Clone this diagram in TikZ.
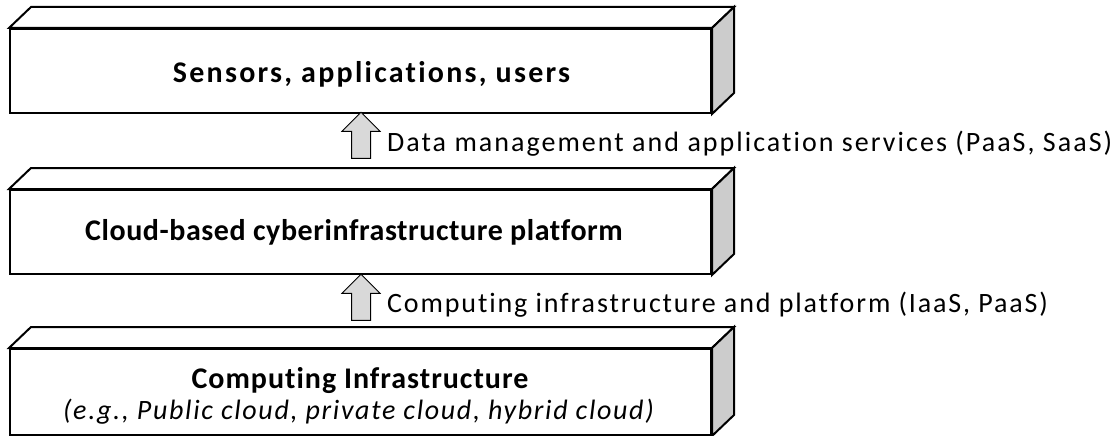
\documentclass[tikz,border=0pt]{standalone}
\usepackage{fontspec}
\setmainfont{Carlito}[Ligatures=NoCommon]
\usetikzlibrary{shapes.arrows}
\definecolor{sidegray}{HTML}{CCCCCC}
\definecolor{arrowgray}{HTML}{D9D9D9}
\newcommand{\spaced}[1]{\addfontfeatures{LetterSpace=#1}}
\tikzset{
  front/.style={draw, line width=2pt, fill=white, minimum width=701pt, inner sep=0pt, align=center},
  face/.style={draw, line width=2pt, line join=miter, fill=white},
  side/.style={face, fill=sidegray},
  uparrow/.style={single arrow, draw, line width=1pt, fill=arrowgray, rotate=90,
    minimum height=46pt, minimum width=37pt, single arrow head extend=9.5pt,
    single arrow head indent=0pt, inner xsep=0pt, inner ysep=9pt},
  title/.style={font=\fontsize{30}{36}\selectfont\bfseries\spaced{#1}, anchor=base, inner sep=0pt},
  sub/.style={font=\fontsize{28}{34}\selectfont\itshape\spaced{#1}, anchor=base, inner sep=0pt},
  lbl/.style={font=\fontsize{28}{34}\selectfont\spaced{#1}, anchor=base west, inner sep=0pt}
}
\newcommand{\boxdepth}[1]{%
  \draw[face] (#1.north west) -- ++(22,-21) -- ([shift={(22,-21)}]#1.north east) -- (#1.north east) -- cycle;
  \draw[side] (#1.north east) -- ++(22,-21) -- ([shift={(22,-21)}]#1.south east) -- (#1.south east) -- cycle;
}
\begin{document}
\begin{tikzpicture}[x=1pt,y=-1pt]
\useasboundingbox (0,0) rectangle (1120,436);

% layer boxes
\node[front, minimum height=84pt] (top) at (360.5,71) {};
\node[title=7.5] (topt) at (371.5,83) {Sensors, applications, users};
\boxdepth{top}

\node[front, minimum height=84pt] (mid) at (360.5,232) {};
\node[title=1.9] (midt) at (354,240) {Cloud-based cyberinfrastructure platform};
\boxdepth{mid}

\node[front, minimum height=86pt] (bot) at (360.5,392) {};
\node[title=3.3] (bott) at (360,388) {Computing Infrastructure};
\node[sub=6] (bots) at (358.5,419) {(e.g., Public cloud, private cloud, hybrid cloud)};
\boxdepth{bot}

% service arrows
\node[uparrow] (a1) at (361,140) {};
\node[lbl=7.3] (l1) at (387,151.5) {Data management and application services (PaaS, SaaS)};

\node[uparrow] (a2) at (361,302) {};
\node[lbl=6.7] (l2) at (387,312) {Computing infrastructure and platform (IaaS, PaaS)};
\end{tikzpicture}
\end{document}
